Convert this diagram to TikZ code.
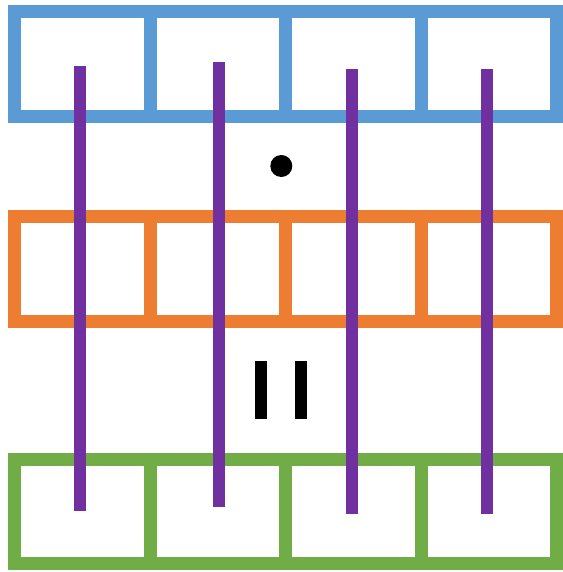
\documentclass[tikz,border=0pt]{standalone}
\usepackage{xcolor}
\usepackage{tikz}
\usetikzlibrary{positioning, calc}
\definecolor{rowblue}{HTML}{5B9BD5}
\definecolor{roworange}{HTML}{ED7D31}
\definecolor{rowgreen}{HTML}{70AD47}
\definecolor{strandpurple}{HTML}{7030A0}

\begin{document}
\begin{tikzpicture}[
    x=1pt, y=-1pt,
    cell/.style={rectangle, draw=#1, line width=13pt, inner sep=0pt,
                 minimum width=135.5pt, minimum height=104.5pt},
    strand/.style={line width=12pt, color=strandpurple},
    bar/.style={line width=12pt, color=black}
]
\useasboundingbox (0,0) rectangle (562,572);

% three rows of four cells
\foreach \i/\x in {1/82.25, 2/217.75, 3/353.25, 4/488.75} {
  \node[cell=rowblue]   (b\i) at (\x,64.25) {};
  \node[cell=roworange] (o\i) at (\x,269)   {};
  \node[cell=rowgreen]  (g\i) at (\x,511.5) {};
}

% vertical strands
\coordinate (t1) at (80,66);    \coordinate (e1) at (80,510.7);
\coordinate (t2) at (219,62);   \coordinate (e2) at (219,507);
\coordinate (t3) at (352,69);   \coordinate (e3) at (352,513.7);
\coordinate (t4) at (487.3,69); \coordinate (e4) at (487.3,513.7);
\foreach \i in {1,...,4}
  \draw[strand] (t\i) -- (e\i);

% operators
\node[circle, fill=black, minimum size=22pt, inner sep=0pt] (dot) at (281.3,166) {};
\coordinate (p1) at (261,361);   \coordinate (q1) at (261,419);
\coordinate (p2) at (301.3,361); \coordinate (q2) at (301.3,419);
\draw[bar] (p1) -- (q1);
\draw[bar] (p2) -- (q2);
\end{tikzpicture}
\end{document}
